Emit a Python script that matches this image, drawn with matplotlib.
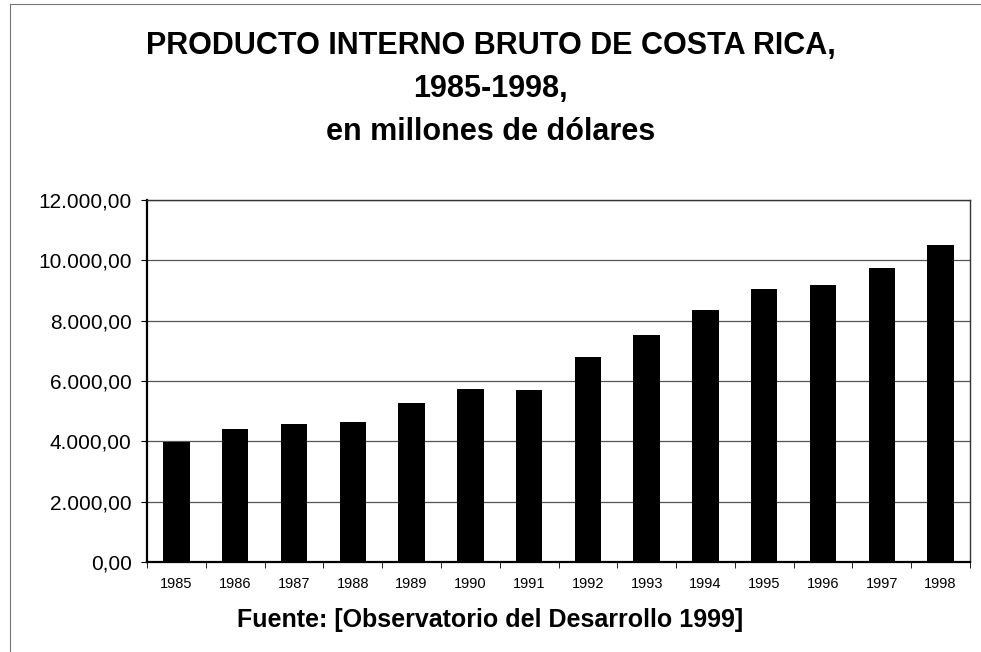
import numpy as np
import matplotlib
matplotlib.use("Agg")
import matplotlib.pyplot as plt
from matplotlib.ticker import FuncFormatter

plt.rcParams['font.family'] = ['Liberation Sans', 'DejaVu Sans']

# --- Data (millones de dolares) ---
years = ['1985', '1986', '1987', '1988', '1989', '1990', '1991',
         '1992', '1993', '1994', '1995', '1996', '1997', '1998']
pib = [3990, 4420, 4570, 4630, 5270, 5720, 5690,
       6790, 7520, 8350, 9040, 9190, 9740, 10520]
y_ticks = [0, 2000, 4000, 6000, 8000, 10000, 12000]

TITLE = "PRODUCTO INTERNO BRUTO DE COSTA RICA,\n1985-1998,\nen millones de dólares"
SOURCE = "Fuente: [Observatorio del Desarrollo 1999]"


def fmt_es(v, pos=None):
    # 12000 -> "12.000,00"
    s = f"{v:,.2f}"
    return s.replace(",", "X").replace(".", ",").replace("X", ".")


fig = plt.figure(figsize=(9.81, 6.52), dpi=100)
ax = fig.add_axes([147 / 981, 1 - 562 / 652, 823 / 981, 362 / 652])

x = np.arange(len(years))
ax.bar(x, pib, width=0.45, color='black', zorder=3)

ax.set_xlim(-0.5, len(years) - 0.5)
ax.set_ylim(0, 12000)
ax.set_yticks(y_ticks)
ax.yaxis.set_major_formatter(FuncFormatter(fmt_es))
ax.set_xticks(x)
ax.set_xticklabels(years)
ax.set_xticks(np.arange(-0.5, len(years), 1), minor=True)

ax.grid(axis='y', color='#555555', linewidth=0.9, zorder=0)
ax.tick_params(axis='y', labelsize=15, length=4, direction='out', pad=7)
ax.tick_params(axis='x', which='major', length=0, labelsize=10.5, pad=11)
ax.tick_params(axis='x', which='minor', length=4, direction='out')

for side in ['left', 'bottom']:
    ax.spines[side].set_linewidth(1.6)
for side in ['top', 'right']:
    ax.spines[side].set_linewidth(1.0)
    ax.spines[side].set_color('#333333')

fig.text(0.5, 1 - 89 / 652, TITLE, ha='center', va='center',
         fontsize=22, fontweight='bold', linespacing=1.55)
fig.text(0.5, 1 - 620 / 652, SOURCE, ha='center', va='center',
         fontsize=18, fontweight='bold')

# faint outer frame of the scanned sheet
fig.add_artist(plt.Line2D([10 / 981, 10 / 981], [0, 1 - 4 / 652],
                          transform=fig.transFigure, color='#777777', lw=0.8))
fig.add_artist(plt.Line2D([10 / 981, 1], [1 - 4 / 652, 1 - 4 / 652],
                          transform=fig.transFigure, color='#777777', lw=0.8))

fig.savefig("out.png", dpi=100)
